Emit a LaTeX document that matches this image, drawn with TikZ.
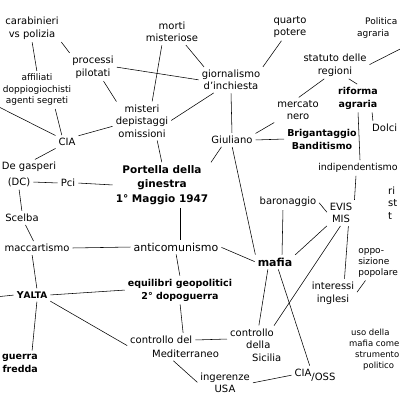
\documentclass[tikz,border=0pt]{standalone}
\usepackage{fontspec}
\setmainfont{DejaVu Sans}
\begin{document}
\begin{tikzpicture}[x=1pt,y=-1pt,
  lbl/.style={font=\fontsize{10}{12.5}\selectfont, align=center, inner sep=2pt},
  bld/.style={lbl, font=\fontsize{9.5}{13}\selectfont\bfseries},
  lk/.style={draw=black, line width=0.55pt, shorten >=1pt, shorten <=1pt}]
\useasboundingbox (0,0) rectangle (400,400);
\fill[white] (0,0) rectangle (400,400);
% nodes
\node[lbl] (carab) at (32,28) {carabinieri\\vs polizia};
\node[lbl] (proc) at (93,67) {processi\\pilotati};
\node[lbl, font=\fontsize{9}{11.5}\selectfont] (affil) at (37,90) {affiliati\\doppiogiochisti\\agenti segreti};
\node[lbl] (morti) at (172,32) {morti\\misteriose};
\node[lbl] (quarto) at (290,27) {quarto\\potere};
\node[lbl, font=\fontsize{9}{11.5}\selectfont, anchor=west, align=left] (poagr) at (355,28) {\hspace*{8pt}Politica\\agraria};
\node[lbl] (statuto) at (335,65) {statuto delle\\regioni};
\node[lbl] (giorn) at (231,80) {giornalismo\\d'inchiesta};
\node[lbl] (mist) at (142,121) {misteri\\depistaggi\\omissioni};
\node[lbl] (cia) at (67,142) {CIA};
\node[lbl] (merc) at (298,110) {mercato\\nero};
\node[bld] (rif) at (358,98) {riforma\\agraria};
\node[lbl, anchor=west] (dolci) at (370,128) {Dolci};
\node[lbl] (giul) at (232,140) {Giuliano};
\node[bld] (brig) at (322,139) {Brigantaggio\\Banditismo};
\node[lbl] (dg) at (29,167) {De gasperi};
\node[lbl] (dc) at (19,182) {(DC)};
\node[lbl] (pci) at (68,183) {Pci};
\node[bld, font=\fontsize{10.5}{14.5}\selectfont\bfseries] (port) at (162,185) {Portella della\\ginestra\\1° Maggio 1947};
\node[lbl, font=\fontsize{9.5}{12}\selectfont, anchor=east] (indip) at (400,168) {indipendentismo};
\node[lbl, anchor=west, align=left] (rist) at (386,203) {ri\\st\\t};
\node[lbl] (scelba) at (22,218) {Scelba};
\node[lbl] (baron) at (288,202) {baronaggio};
\node[lbl] (evis) at (341,213) {EVIS\\MIS};
\node[lbl] (macc) at (37,248) {maccartismo};
\node[lbl, font=\fontsize{11}{13}\selectfont] (anti) at (176,247) {anticomunismo};
\node[bld, font=\fontsize{11}{13}\selectfont\bfseries] (mafia) at (275,262) {mafia};
\node[lbl, font=\fontsize{9}{11}\selectfont, anchor=east, align=left] (opp) at (400,263) {oppo-\\sizione\\popolare};
\node[bld] (yalta) at (32,295) {Y{\small ALTA}};
\node[bld] (equil) at (180,290) {equilibri geopolitici\\2° dopoguerra};
\node[lbl] (inter) at (333,293) {interessi\\inglesi};
\node[bld, anchor=east, align=right] (guerra) at (40,363) {guerra\\fredda};
\node[lbl, anchor=west] (cm1) at (128,340) {controllo del};
\node[lbl, anchor=west] (cm2) at (150,354) {Mediterraneo};
\node[lbl, anchor=west, align=left] (cs) at (228,345) {controllo\\\hspace*{16pt}della\\\hspace*{22pt}Sicilia};
\node[lbl, font=\fontsize{8.5}{11}\selectfont, anchor=west, align=left] (uso) at (347,350) {\hspace*{2pt}uso della\\mafia come\\\hspace*{6pt}strumento\\\hspace*{14pt}politico};
\node[lbl] (inger) at (225,383) {ingerenze\\USA};
\node[lbl] (ciaoss) at (315,375) {\raisebox{4pt}{CIA}/OSS};
\coordinate (L1) at (-5,105);
\coordinate (L2) at (-5,297);
\coordinate (R1) at (410,44);
% links
\path[lk] (carab.south east) -- (proc.north west);
\path[lk] (carab.south) -- (affil.north);
\path[lk] ([xshift=10pt]proc.south) -- ([xshift=-25pt]mist.north);
\path[lk] (proc.east) -- (giorn.west);
\path[lk] ([xshift=-10pt]morti.south) -- ([xshift=10pt]mist.north);
\path[lk] ([xshift=-15pt]morti.south east) -- ([xshift=5pt]giorn.north west);
\path[lk] (mist.east) -- ([xshift=15pt]giorn.south west);
\path[lk] (giorn.north east) -- ([xshift=-8pt]quarto.south);
\path[lk] (giorn.south) -- (giul.north);
\path[lk] (merc.south west) -- (giul.north east);
\path[lk] ([xshift=-10pt]statuto.south) -- (merc.north);
\path[lk] ([xshift=13pt]statuto.south) -- (rif.north);
\path[lk] (statuto.east) -- (R1);
\path[lk] ([xshift=-8pt]rif.south east) -- ([xshift=3pt]dolci.north west);
\path[lk] (rif.south) -- ([xshift=2pt]indip.north);
\path[lk] (giul.east) -- (brig.west);
\path[lk] ([xshift=-10pt]giul.south) -- (port.north east);
\path[lk] (giul.south) -- (mafia.north west);
\path[lk] ([xshift=15pt]mist.south) -- (port.north);
\path[lk] (cia.north east) -- ([yshift=-5pt]mist.west);
\path[lk] ([xshift=18pt]affil.south) -- ([xshift=-5pt]cia.north);
\path[lk] (L1) -- (cia.north west);
\path[lk] ([xshift=5pt]dg.north) -- (cia.south west);
\path[lk] (dc.east) -- (pci.west);
\path[lk] (dc.south) -- (scelba.north);
\path[lk] (scelba) -- (macc);
\path[lk] ([xshift=-5pt]macc.south) -- ([xshift=5pt]yalta.north);
\path[lk] (pci.east) -- (port.west);
\path[lk] (macc.east) -- (anti.west);
\path[lk] ([xshift=18pt]port.south) -- ([xshift=4pt]anti.north);
\path[lk] (anti.east) -- (mafia.west);
\path[lk] (anti.south) -- (equil.north);
\path[lk] (equil.south) -- ([xshift=22pt]cm1.north);
\path[lk] (yalta.east) -- (equil.west);
\path[lk] (yalta.south east) -- (cm1.south west);
\path[lk] ([xshift=5pt]yalta.south) -- ([xshift=-8pt]guerra.north east);
\path[lk] (L2) -- (yalta.west);
\path[lk] (cm1.east) -- ([yshift=6pt]cs.west);
\path[lk] ([xshift=-13pt]cm2.south) -- (inger.west);
\path[lk] (inger.east) -- (ciaoss.west);
\path[lk] ([xshift=-7pt]mafia.south) -- ([xshift=3pt]cs.north);
\path[lk] ([xshift=3pt]mafia.south) -- ([xshift=-5pt]ciaoss.north);
\path[lk] (evis.south west) -- (mafia.north east);
\path[lk] (evis.south) -- ([xshift=-10pt]cs.north east);
\path[lk] ([xshift=-6pt]evis.south east) -- ([xshift=-12pt]inter.north east);
\path[lk] ([xshift=-2pt]indip.south) -- (evis.north east);
\path[lk] (baron.east) -- (evis.west);
\path[lk] ([xshift=-5pt]baron.south) -- ([xshift=7pt]mafia.north);
\path[lk] (inter.east) -- ([xshift=10pt]opp.south west);
\end{tikzpicture}
\end{document}
